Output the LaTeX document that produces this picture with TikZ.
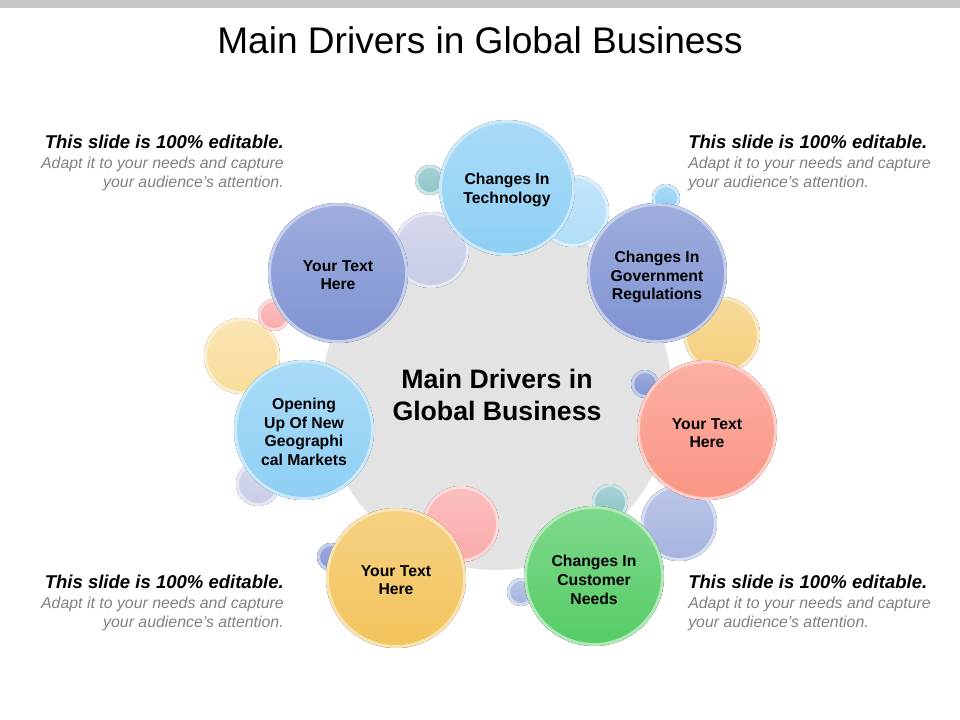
\documentclass[tikz,border=0pt]{standalone}
\usepackage{fontspec}
\setmainfont{Liberation Sans}
\definecolor{skyc}{HTML}{8ECFF5}
\definecolor{navc}{HTML}{7F93D2}
\definecolor{salc}{HTML}{FA9585}
\definecolor{grnc}{HTML}{55CC66}
\definecolor{ylwc}{HTML}{F2C35A}
\definecolor{tealc}{HTML}{8CC4C8}
\definecolor{lavc}{HTML}{C8CCE6}
\definecolor{pnkc}{HTML}{FAAAAA}
\definecolor{pylc}{HTML}{F8DC9A}
\tikzset{
  bubble/.style={circle, minimum size=#1*1.5pt, inner sep=0pt, align=center,
    font=\bfseries\fontsize{11.8}{14}\selectfont},
  note/.style={font=\fontsize{11.9}{14.2}\selectfont, inner sep=0pt}
}
\newcommand{\ball}[4]{% center, radius, colour
  \fill[top color=#4!75!white, bottom color=#4] (#1,#2) circle (#3);
  \draw[#4!45!white, line width=2.2pt] (#1,#2) circle (#3-1.5);
}
\begin{document}
\begin{tikzpicture}[x=0.75pt, y=-0.75pt]
\useasboundingbox (0,0) rectangle (960,720);
% Top bar and title
\fill[gray!45] (0,0) rectangle (960,8);
\node (title) at (480,40) {\fontsize{27.8}{32}\selectfont Main Drivers in Global Business};

% Centre disc
\fill[gray!22] (497,395) circle (175);
\node[font=\bfseries\fontsize{20}{24}\selectfont, align=center] (core) at (497,395) {Main Drivers in\\Global Business};

% Small bubbles
\ball{431}{250}{38}{lavc}
\ball{430}{180}{15}{tealc}
\ball{573}{211}{36}{skyc!70!white}
\ball{666}{198}{14}{skyc}
\ball{722}{335}{38}{ylwc!80!white}
\ball{645}{384}{14}{navc}
\ball{679}{523}{38}{navc!70!white}
\ball{610}{502}{18}{tealc}
\ball{521}{592}{14}{navc!70!white}
\ball{461}{524}{38}{pnkc}
\ball{331}{557}{14}{navc}
\ball{258}{484}{22}{lavc}
\ball{242}{356}{38}{pylc}
\ball{274}{315}{16}{pnkc}

% Main bubbles
\ball{507}{188}{68}{skyc}
\ball{657}{273}{70}{navc}
\ball{707}{430}{70}{salc}
\ball{594}{576}{70}{grnc}
\ball{396}{578}{70}{ylwc}
\ball{304}{430}{70}{skyc}
\ball{338}{273}{70}{navc}
\node[bubble=120] (tech) at (507,190) {Changes In\\Technology};
\node[bubble=120] (gov) at (657,277) {Changes In\\Government\\Regulations};
\node[bubble=120] (txtr) at (707,433) {Your Text\\Here};
\node[bubble=120] (cust) at (594,580) {Changes In\\Customer\\Needs};
\node[bubble=120] (txtb) at (396,580) {Your Text\\Here};
\node[bubble=120] (geo) at (304,432) {Opening\\Up Of New\\Geographi\\cal Markets};
\node[bubble=120] (txtl) at (338,275) {Your Text\\Here};

% Notes
\foreach \y [count=\i] in {163,603}{
  \node[note, anchor=east, align=right] (lnote\i) at (284,\y)
    {\textbf{\textit{\fontsize{13.9}{15}\selectfont This slide is 100\% editable.}}\\[1pt]
     \textcolor{gray}{\textit{Adapt it to your needs and capture}}\\
     \textcolor{gray}{\textit{your audience's attention.}}};
  \node[note, anchor=west, align=left] (rnote\i) at (688,\y)
    {\textbf{\textit{\fontsize{13.9}{15}\selectfont This slide is 100\% editable.}}\\[1pt]
     \textcolor{gray}{\textit{Adapt it to your needs and capture}}\\
     \textcolor{gray}{\textit{your audience's attention.}}};
}
\end{tikzpicture}
\end{document}
